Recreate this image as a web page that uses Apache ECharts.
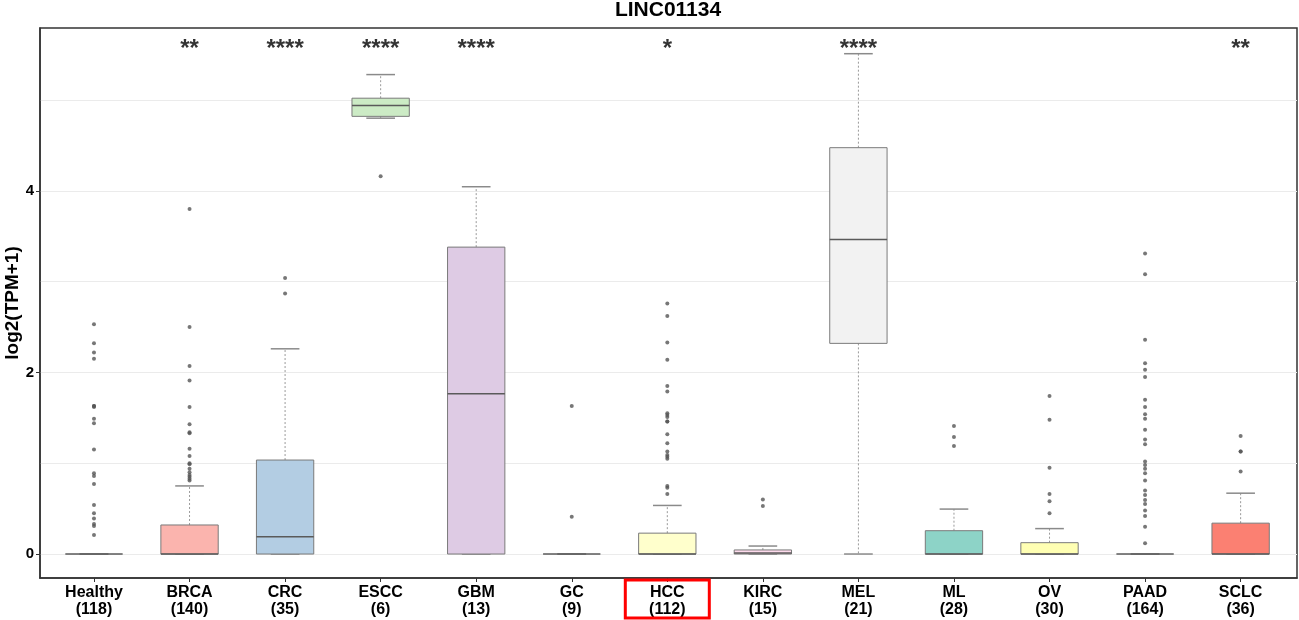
<!DOCTYPE html>
<html>
<head>
<meta charset="utf-8">
<script src="https://cdn.jsdelivr.net/npm/echarts@6/dist/echarts.min.js"></script>
<style>
html,body{margin:0;padding:0;background:#fff}
#main{width:1299px;height:620px}
</style>
</head>
<body>
<div id="main"></div>
<script>
// 数据（从图上读出来的）
var categories = ['Healthy','BRCA','CRC','ESCC','GBM','GC','HCC','KIRC','MEL','ML','OV','PAAD','SCLC'];
var counts = [118,140,35,6,13,9,112,15,21,28,30,164,36];
var sigLabels = ['','**','****','****','****','','*','','****','','','','**'];

var lowWhisker = [0,0,0,4.80,0,0,0,0,0,0,0,0,0];
var q1 = [0,0,0,4.82,0,0,0,0,2.32,0,0,0,0];
var median = [0,0,0.19,4.94,1.765,0,0,0.01,3.465,0,0,0,0];
var q3 = [0,0.32,1.035,5.02,3.38,0,0.23,0.045,4.475,0.257,0.125,0,0.34];
var highWhisker = [0,0.75,2.26,5.28,4.045,0,0.535,0.088,5.51,0.495,0.28,0,0.67];

var outHealthy = [2.53,2.32,2.22,2.15,1.63,1.63,1.62,1.49,1.44,1.15,0.89,0.86,0.77,0.54,0.45,0.39,0.33,0.31,0.21];
var outBRCA = [3.80,2.50,2.07,1.91,1.62,1.43,1.34,1.33,1.16,1.08,1.00,0.99,0.94,0.90,0.87,0.85,0.83,0.81];
var outCRC = [3.04,2.87];
var outESCC = [4.16];
var outGBM = [];
var outGC = [1.63,0.41];
var outHCC = [2.76,2.62,2.33,2.14,1.85,1.79,1.55,1.53,1.51,1.46,1.46,1.32,1.22,1.13,1.09,1.07,1.05,0.75,0.73,0.66];
var outKIRC = [0.60,0.53];
var outMEL = [];
var outML = [1.41,1.29,1.19];
var outOV = [1.74,1.48,0.95,0.66,0.58,0.45];
var outPAAD = [3.31,3.08,2.36,2.10,2.03,1.95,1.70,1.62,1.54,1.49,1.37,1.26,1.21,1.02,0.98,0.94,0.89,0.81,0.70,0.65,0.595,0.55,0.48,0.42,0.30,0.12];
var outSCLC = [1.30,1.13,1.13,0.91];

var boxColors = ['#FFFFFF','#FBB4AE','#B3CDE3','#CCEBC5','#DECBE4','#FED9A6','#FFFFCC','#FDDAEC','#F2F2F2','#8DD3C7','#FFFFB3','#BEBADA','#FB8072'];

var yTicks = [0,2,4];
var yGrid = [0,1,2,3,4,5];

var outliers = [outHealthy,outBRCA,outCRC,outESCC,outGBM,outGC,outHCC,outKIRC,outMEL,outML,outOV,outPAAD,outSCLC];
var xTicks = categories.map(function(c,i){ return i+1; });

var boxData = categories.map(function(c,i){
  return [i+1, lowWhisker[i], q1[i], median[i], q3[i], highWhisker[i]];
});
var outlierData = [];
outliers.forEach(function(list,i){
  list.forEach(function(v){ outlierData.push([i+1, v]); });
});
var starData = [];
sigLabels.forEach(function(s,i){
  if (s) starData.push([i+1, 5.56, s]);
});

var myChart = echarts.init(document.getElementById('main'));
var font = '"Liberation Sans", Arial, sans-serif';

function renderBox(params, api)
{
  var x = api.value(0);
  var pLow = api.coord([x, api.value(1)]);
  var pQ1 = api.coord([x, api.value(2)]);
  var pMed = api.coord([x, api.value(3)]);
  var pQ3 = api.coord([x, api.value(4)]);
  var pHigh = api.coord([x, api.value(5)]);
  var w = api.size([0.6, 0])[0];
  var cap = w / 4;
  var cx = pMed[0];
  var idx = params.dataIndex;
  var whisker = {stroke:'#9a9a9a', lineWidth:1, lineDash:[2,2]};
  var capStyle = {stroke:'#8a8a8a', lineWidth:1.5};
  var kids = [
    {type:'line', shape:{x1:cx,y1:pQ3[1],x2:cx,y2:pHigh[1]}, style:whisker},
    {type:'line', shape:{x1:cx,y1:pQ1[1],x2:cx,y2:pLow[1]}, style:whisker},
    {type:'line', shape:{x1:cx-cap,y1:pHigh[1],x2:cx+cap,y2:pHigh[1]}, style:capStyle},
    {type:'line', shape:{x1:cx-cap,y1:pLow[1],x2:cx+cap,y2:pLow[1]}, style:capStyle}
  ];
  if (pQ1[1] - pQ3[1] > 0.5) {
    kids.push({type:'rect', shape:{x:cx-w/2,y:pQ3[1],width:w,height:pQ1[1]-pQ3[1]},
      style:{fill:boxColors[idx], stroke:'#7a7a7a', lineWidth:1}});
  }
  // 中位数线（箱子为0高度时就是一条线）
  kids.push({type:'line', shape:{x1:cx-w/2,y1:pMed[1],x2:cx+w/2,y2:pMed[1]}, style:{stroke:'#5a5a5a', lineWidth:1.5}});
  return {type: 'group', children: kids};
}

var option = {
  animation: false,
  backgroundColor: '#fff',
  title: {
    text: 'LINC01134',
    left: 668,
    top: 0,
    padding: 0,
    textAlign: 'center',
    textStyle: {fontFamily: font, fontSize: 21, fontWeight: 'bold', color: '#000'}
  },
  grid: {
    left: 40, right: 2, top: 28, bottom: 42,
    outerBoundsMode: 'none',
    containLabel: false,
    show: true, borderColor: '#333', borderWidth: 1.5, backgroundColor: '#fff'
  },
  xAxis: {
    type: 'value',
    min: 0.435,
    max: 13.59,
    axisLine: {show: true, onZero: false, lineStyle: {color: '#333', width: 1.5}},
    axisTick: {show: true, customValues: xTicks, length: 4, lineStyle: {color: '#333'}},
    splitLine: {show: false},
    axisLabel: {
      customValues: xTicks,
      margin: 6,
      fontFamily: font, fontSize: 16, fontWeight: 'bold', color: '#000', lineHeight: 17,
      formatter: function(v){
        var i = Math.round(v) - 1;
        return categories[i] + '\n(' + counts[i] + ')';
      }
    }
  },
  yAxis: [{
    type: 'value',
    min: -0.264,
    max: 5.793,
    axisLine: {show: false},
    axisTick: {show: false, customValues: yGrid},
    axisLabel: {show: false, customValues: yGrid},
    splitLine: {show: true, lineStyle: {color: '#ebebeb', width: 1.2}}
  }, {
    type: 'value',
    min: -0.264,
    max: 5.793,
    position: 'left',
    name: 'log2(TPM+1)',
    nameLocation: 'middle',
    nameGap: 18,
    nameMoveOverlap: false,
    nameTextStyle: {fontFamily: font, fontSize: 19, fontWeight: 'bold', color: '#000'},
    axisLine: {show: true, onZero: false, lineStyle: {color: '#333', width: 1.5}},
    axisTick: {show: true, customValues: yTicks, length: 4, lineStyle: {color: '#333'}},
    axisLabel: {customValues: yTicks, margin: 6, fontFamily: font, fontSize: 15, fontWeight: 'bold', color: '#000'},
    splitLine: {show: false}
  }],
  series: [{
    type: 'custom',
    name: 'box',
    yAxisIndex: 0,
    renderItem: renderBox,
    encode: {x: 0, y: [1,2,3,4,5]},
    data: boxData,
    z: 2
  }, {
    type: 'scatter',
    name: 'outlier',
    yAxisIndex: 0,
    symbolSize: 4,
    itemStyle: {color: '#555', opacity: 0.8},
    data: outlierData,
    z: 3
  }, {
    type: 'scatter',
    name: 'sig',
    yAxisIndex: 0,
    symbolSize: 1,
    itemStyle: {color: 'transparent'},
    label: {
      show: true, position: 'inside',
      formatter: function(p){ return p.value[2]; },
      fontFamily: font, fontSize: 24, fontWeight: 'bold', color: '#000'
    },
    data: starData,
    z: 4
  }]
};
myChart.setOption(option);

// 红框标出HCC
var hccX = myChart.convertToPixel({xAxisIndex: 0}, categories.indexOf('HCC') + 1);
myChart.setOption({
  graphic: [{
    type: 'rect',
    shape: {x: hccX - 42, y: 580, width: 84, height: 38},
    style: {fill: 'none', stroke: '#ff0000', lineWidth: 3},
    z: 100
  }]
});
</script>
</body>
</html>
